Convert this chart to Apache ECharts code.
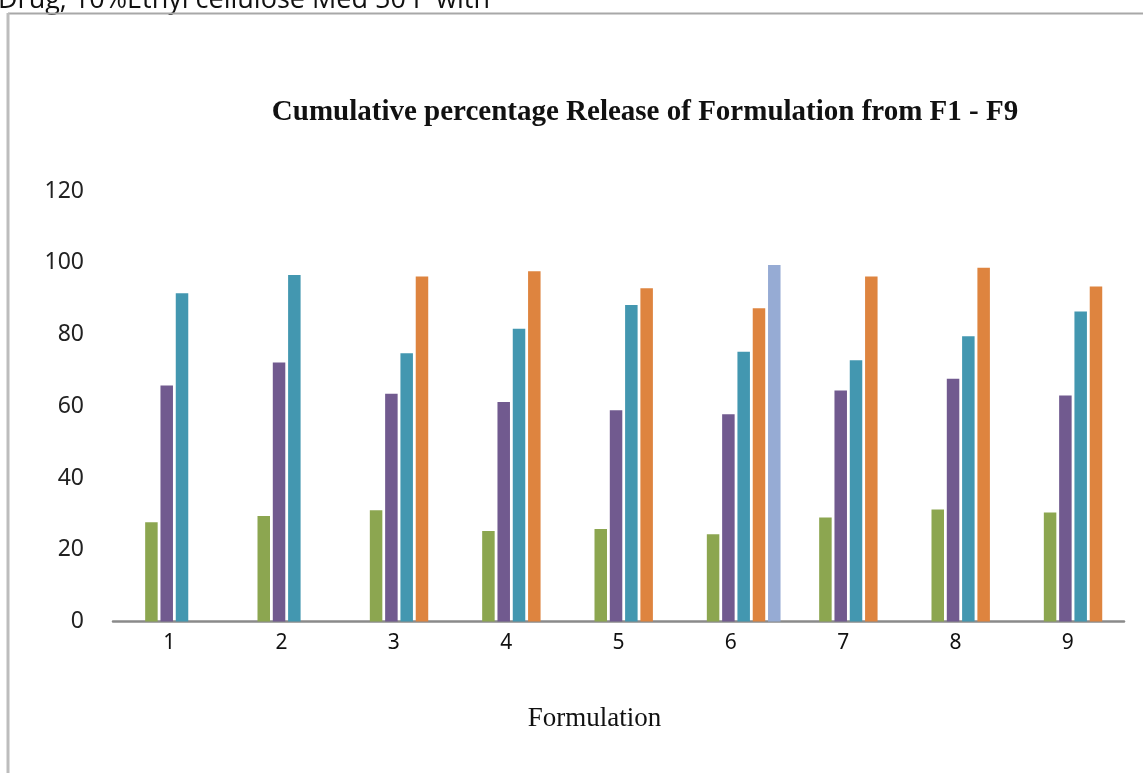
<!DOCTYPE html>
<html>
<head>
<meta charset="utf-8">
<title>Cumulative percentage Release of Formulation from F1 - F9</title>
<script src="https://cdn.jsdelivr.net/npm/echarts@6/dist/echarts.min.js"></script>
<style>
  html, body { margin: 0; padding: 0; background: #ffffff; }
  #chart { width: 1143px; height: 773px; }
</style>
</head>
<body>
<div id="chart"></div>
<script>
// Formulation numbers along the x axis
const categories = ['1', '2', '3', '4', '5', '6', '7', '8', '9'];

// Cumulative % release, one array per bar colour (null = no bar)
const releaseGreen  = [27.7, 29.4, 31.0, 25.2, 25.8, 24.3, 29.0, 31.2, 30.4];
const releasePurple = [65.8, 72.2, 63.5, 61.2, 58.9, 57.8, 64.4, 67.7, 63.0];
const releaseTeal   = [91.5, 96.6, 74.8, 81.6, 88.2, 75.2, 72.8, 79.5, 86.4];
const releaseOrange = [null, null, 96.2, 97.6, 92.9, 87.3, 96.2, 98.6, 93.4];
const releaseBlue   = [null, null, null, null, null, 99.4, null, null, null];

// Value axis range and step
const yMin = 0;
const yMax = 120;
const yStep = 20;

const seriesDefs = [
  { name: 'Series 1', data: releaseGreen,  color: '#8ca650' },
  { name: 'Series 2', data: releasePurple, color: '#715a8f' },
  { name: 'Series 3', data: releaseTeal,   color: '#4397b0' },
  { name: 'Series 4', data: releaseOrange, color: '#de843f' },
  { name: 'Series 5', data: releaseBlue,   color: '#96abd4' }
];

// Bars sit in fixed slots within each category, starting left of the centre
const SLOT_START = -24;
const SLOT_PITCH = 15.3;
const BAR_W = 12.5;

function makeRenderer(slot) {
  return function (params, api) {
    const v = api.value(1);
    if (v == null || isNaN(v)) return null;
    const top = api.coord([api.value(0), v]);
    const base = api.coord([api.value(0), 0]);
    const x = top[0] + SLOT_START + slot * SLOT_PITCH;
    return {
      type: 'rect',
      shape: { x: x, y: top[1], width: BAR_W, height: base[1] - top[1] },
      style: api.style({ fill: api.visual('color') })
    };
  };
}

const chart = echarts.init(document.getElementById('chart'), null, { renderer: 'canvas' });

chart.setOption({
  backgroundColor: '#ffffff',
  animation: false,
  title: {
    text: 'Cumulative percentage Release of Formulation from F1 - F9',
    left: 640,
    textAlign: 'center',
    top: 93,
    textStyle: {
      fontFamily: '"Liberation Serif", "Times New Roman", serif',
      fontWeight: 'bold',
      fontSize: 29,
      color: '#111111'
    }
  },
  grid: { left: 113, right: 19, top: 191, bottom: 151.5 },
  xAxis: {
    type: 'category',
    data: categories,
    boundaryGap: true,
    name: 'Formulation',
    nameLocation: 'middle',
    nameGap: 84,
    nameTextStyle: {
      fontFamily: '"Liberation Serif", "Times New Roman", serif',
      fontSize: 27,
      color: '#111111',
      padding: [0, 48, 0, 0]
    },
    axisLine: { show: true, lineStyle: { color: '#8a8a8a', width: 2.5 } },
    axisTick: { show: false },
    axisLabel: {
      margin: 11,
      fontFamily: '"Noto Sans", "DejaVu Sans", sans-serif',
      fontSize: 21,
      color: '#111111'
    },
    splitLine: { show: false }
  },
  yAxis: {
    type: 'value',
    min: yMin,
    max: yMax,
    interval: yStep,
    axisLine: { show: false },
    axisTick: { show: false },
    splitLine: { show: false },
    axisLabel: {
      margin: 29,
      fontFamily: '"Noto Sans", "DejaVu Sans", sans-serif',
      fontSize: 23,
      color: '#222222'
    }
  },
  series: seriesDefs.map(function (s, slot) {
    return {
      type: 'custom',
      name: s.name,
      itemStyle: { color: s.color },
      encode: { x: 0, y: 1 },
      renderItem: makeRenderer(slot),
      data: s.data
        .map(function (v, i) { return v == null ? null : [i, v]; })
        .filter(function (d) { return d !== null; })
    };
  }),
  graphic: [
    {
      type: 'text',
      left: -2,
      top: -13,
      style: {
        text: 'Drug, 10%Ethyl cellulose Med 50 P with',
        font: '27px "Open Sans", "Liberation Sans", sans-serif',
        fill: '#111111'
      }
    },
    {
      type: 'line',
      shape: { x1: 8, y1: 13.5, x2: 1143, y2: 13.5 },
      style: { stroke: '#a8a8a8', lineWidth: 2 }
    },
    {
      type: 'line',
      shape: { x1: 8, y1: 13, x2: 8, y2: 773 },
      style: { stroke: '#bdbdbd', lineWidth: 3 }
    }
  ]
});
</script>
</body>
</html>
